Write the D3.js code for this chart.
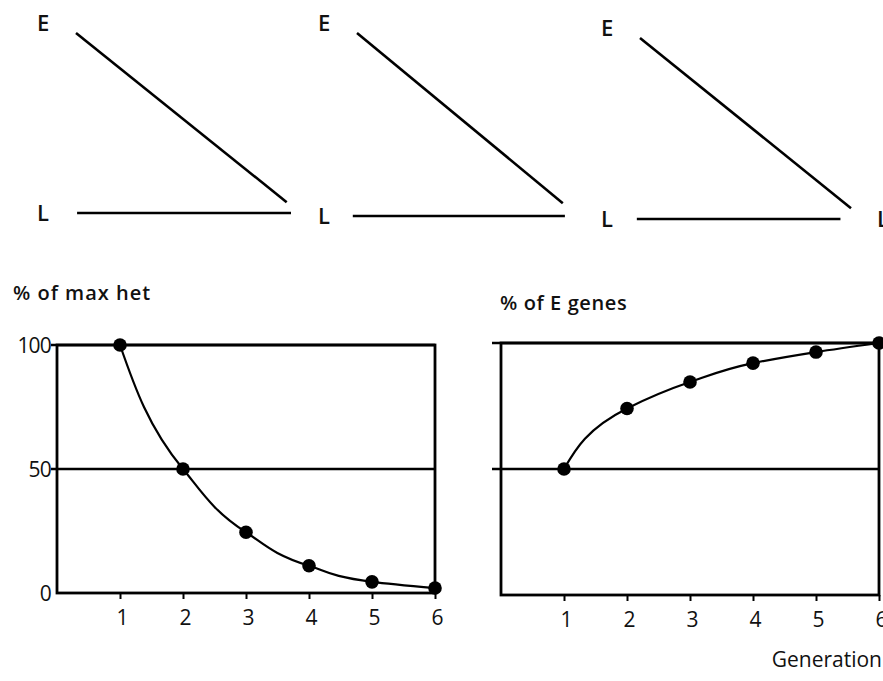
<!DOCTYPE html>
<html>
<head>
<meta charset="utf-8">
<script src="https://cdn.jsdelivr.net/npm/d3@7"></script>
<style>
  body { margin: 0; background: #fff; }
  svg { display: block; }
  text { font-family: "Open Sans", "DejaVu Sans", sans-serif; fill: #111; }
</style>
</head>
<body>
<div id="chart"></div>
<script>
// --- data ---
var generations = [1, 2, 3, 4, 5, 6];
var hetValues = [100, 50, 24.5, 11, 4.5, 2];       // % of max het
var eGeneValues = [50, 74, 84.5, 92, 96.4, 100];   // % of E genes
var yTicks = [0, 50, 100];
var chartTitles = ["% of max het", "% of E genes"];
var xTitle = "Generation";

// top schematic panels: E and L levels (1 = E, 0 = L)
var levelLabels = ["E", "L"];
var panelDiagonals = [
    { x0: 0, y0: 1, x1: 0.98, y1: 0.06 },
    { x0: 0, y0: 1, x1: 0.98, y1: 0.07 },
    { x0: 0, y0: 1, x1: 1.0, y1: 0.06 }
];
var panelFlat = [
    { x0: 0.005, y0: 0, x1: 1.0, y1: 0 },
    { x0: -0.02, y0: 0, x1: 0.99, y1: 0 },
    { x0: -0.015, y0: 0, x1: 0.95, y1: 0 }
];

var width = 883, height = 681;

var svg = d3.select("#chart").append("svg")
    .attr("width", width)
    .attr("height", height);

// --- top schematics ---
var panels = [
    { left: 76, right: 291, top: 33, bottom: 213 },
    { left: 357, right: 567, top: 33, bottom: 216 },
    { left: 640, right: 851, top: 38, bottom: 219 }
];

panels.forEach(function(p, i) {
    var x = d3.scaleLinear().domain([0, 1]).range([p.left, p.right]);
    var y = d3.scaleLinear().domain([0, 1]).range([p.bottom, p.top]);
    var g = svg.append("g");

    [panelDiagonals[i], panelFlat[i]].forEach(function(d) {
        g.append("line")
            .attr("x1", x(d.x0)).attr("y1", y(d.y0))
            .attr("x2", x(d.x1)).attr("y2", y(d.y1))
            .attr("stroke", "#000")
            .attr("stroke-width", 2.6);
    });

    g.append("text")
        .attr("x", p.left - 39).attr("y", y(1) - 10)
        .attr("dy", "0.35em")
        .attr("font-size", 22).attr("font-weight", 600)
        .text(levelLabels[0]);
    g.append("text")
        .attr("x", p.left - 39).attr("y", y(0))
        .attr("dy", "0.35em")
        .attr("font-size", 22).attr("font-weight", 600)
        .text(levelLabels[1]);
});
// the next panel's L is cut by the right edge
svg.append("text")
    .attr("x", 877).attr("y", 219).attr("dy", "0.35em")
    .attr("font-size", 22).attr("font-weight", 600)
    .text(levelLabels[1]);

// --- bottom charts ---
function drawChart(opts) {
    var x = d3.scaleLinear().domain([0, 6]).range([opts.left, opts.right]);
    var y = d3.scaleLinear().domain([0, 100]).range([opts.bottom, opts.top]);
    var g = svg.append("g");

    // title
    g.append("text")
        .attr("x", opts.titleX).attr("y", opts.titleY)
        .attr("dy", "0.35em")
        .attr("font-size", 20).attr("font-weight", 600)
        .attr("letter-spacing", opts.titleSpacing)
        .text(opts.title);

    // frame
    g.append("rect")
        .attr("x", x(0)).attr("y", y(100))
        .attr("width", x(6) - x(0)).attr("height", y(0) - y(100))
        .attr("fill", "none")
        .attr("stroke", "#000").attr("stroke-width", 2.8);

    // horizontal 50 line + left ticks
    yTicks.forEach(function(t) {
        if (t === 0) return;
        g.append("line")
            .attr("x1", x(0) - opts.leftTick).attr("x2", x(6))
            .attr("y1", y(t)).attr("y2", y(t))
            .attr("stroke", "#000").attr("stroke-width", 2.6);
    });

    if (opts.showYLabels) {
        g.selectAll(".ylab").data(yTicks).enter().append("text")
            .attr("x", x(0) - 6).attr("y", function(d) { return y(d); })
            .attr("dy", "0.36em")
            .attr("text-anchor", "end")
            .attr("font-size", 21)
            .attr("letter-spacing", -0.8)
            .text(function(d) { return d; });
    }

    // x ticks
    var xAxis = d3.axisBottom(x)
        .tickValues(generations)
        .tickFormat(d3.format("d"))
        .tickSize(6)
        .tickPadding(11);
    var ax = g.append("g")
        .attr("transform", "translate(0," + y(0) + ")")
        .call(xAxis);
    ax.select(".domain").remove();
    ax.selectAll(".tick line").attr("stroke", "#000").attr("stroke-width", 2);
    ax.selectAll(".tick text")
        .attr("font-size", 21)
        .attr("font-family", "\"Open Sans\", sans-serif")
        .attr("fill", "#111")
        .attr("dx", 2);

    // curve
    var pts = generations.map(function(gen, i) { return [gen, opts.values[i]]; });
    var line = d3.line()
        .x(function(d) { return x(d[0]); })
        .y(function(d) { return y(d[1]); })
        .curve(d3.curveMonotoneY);
    g.append("path")
        .datum(pts)
        .attr("d", line)
        .attr("fill", "none")
        .attr("stroke", "#000").attr("stroke-width", 2.2);

    g.selectAll(".dot").data(pts).enter().append("circle")
        .attr("cx", function(d) { return x(d[0]); })
        .attr("cy", function(d) { return y(d[1]); })
        .attr("r", 6.8)
        .attr("fill", "#000");
}

drawChart({
    left: 57, right: 435, top: 345, bottom: 593,
    values: hetValues, title: chartTitles[0], titleSpacing: 1,
    titleX: 13, titleY: 293, showYLabels: true, leftTick: 6
});

drawChart({
    left: 501, right: 879, top: 343, bottom: 595,
    values: eGeneValues, title: chartTitles[1], titleSpacing: 0.6,
    titleX: 500, titleY: 303, showYLabels: false, leftTick: 9
});

svg.append("text")
    .attr("x", 882).attr("y", 660)
    .attr("dy", "0.35em")
    .attr("text-anchor", "end")
    .attr("font-size", 21)
    .text(xTitle);
</script>
</body>
</html>
